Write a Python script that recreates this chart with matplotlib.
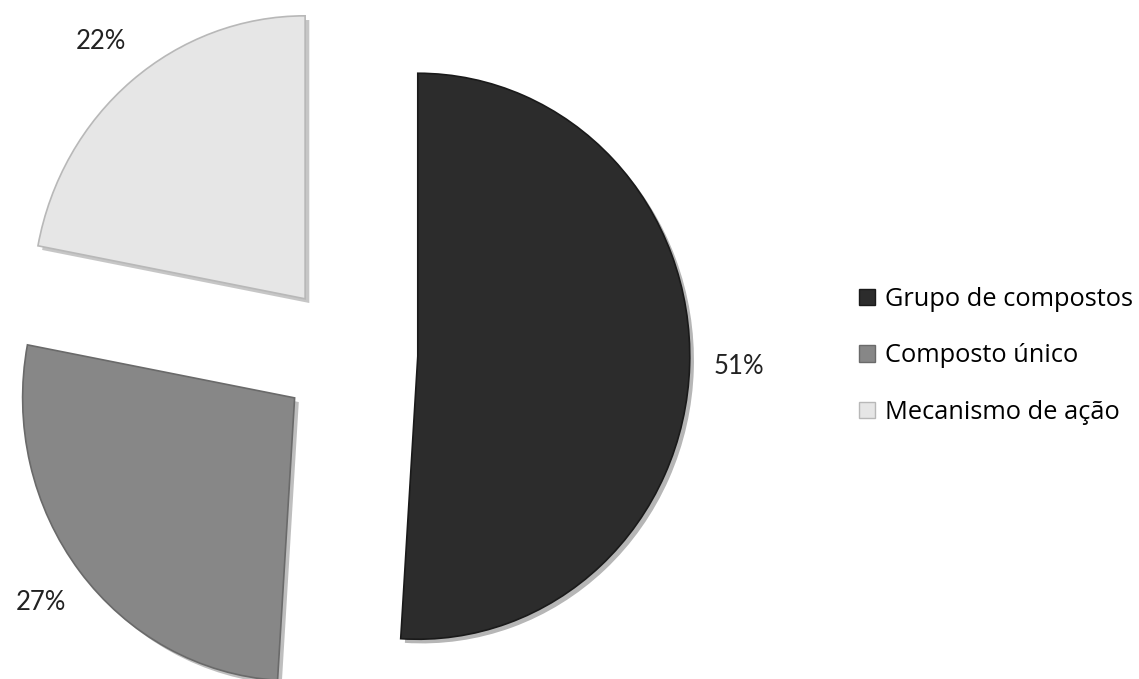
import matplotlib.pyplot as plt
import matplotlib.patheffects as pe
from matplotlib.patches import Patch

labels = ["Grupo de compostos", "Composto único", "Mecanismo de ação"]
values = [51, 27, 22]
colors = ["#2c2c2c", "#878787", "#e6e6e6"]
edges = ["#1a1a1a", "#6a6a6a", "#b8b8b8"]

W, H, DPI = 1139, 679, 100
RX, RY = 272.0, 283.0   # pie radius in pixels (source is a bit squashed)
CX, CY = 349, 354       # pie centre in pixels (from top)

plt.rcParams["font.family"] = ["Lato", "DejaVu Sans"]

fig = plt.figure(figsize=(W / DPI, H / DPI), dpi=DPI)
fig.patch.set_facecolor("white")
ax = fig.add_axes([0, 0, 1, 1])

wedges, texts, autotexts = ax.pie(
    values, colors=colors, startangle=90, counterclock=False,
    explode=[0.253] * 3, autopct="%1.0f%%", pctdistance=1.18,
    textprops=dict(fontsize=18.5, color="#222222", family=["Lato", "DejaVu Sans"]),
    wedgeprops=dict(linewidth=1.2),
)
for w, ec in zip(wedges, edges):
    w.set_edgecolor(ec)
    w.set_path_effects([pe.SimplePatchShadow(offset=(3, -3), alpha=0.3),
                        pe.Normal()])

ax.set_xlim(-CX / RX, (W - CX) / RX)
ax.set_ylim(-(H - CY) / RY, CY / RY)
ax.set_aspect("auto")
ax.axis("off")

handles = [Patch(facecolor=c, edgecolor=e, linewidth=1) for c, e in zip(colors, edges)]
ax.legend(handles, labels, loc="center left",
          bbox_to_anchor=(859 / W, 1 - 356 / H), bbox_transform=fig.transFigure,
          frameon=False, prop=dict(family=["Open Sans", "DejaVu Sans"], size=18.3),
          handlelength=0.62, handleheight=0.6,
          handletextpad=0.4, labelspacing=1.25, borderpad=0, borderaxespad=0)

fig.savefig("out.png", dpi=DPI, facecolor="white")
